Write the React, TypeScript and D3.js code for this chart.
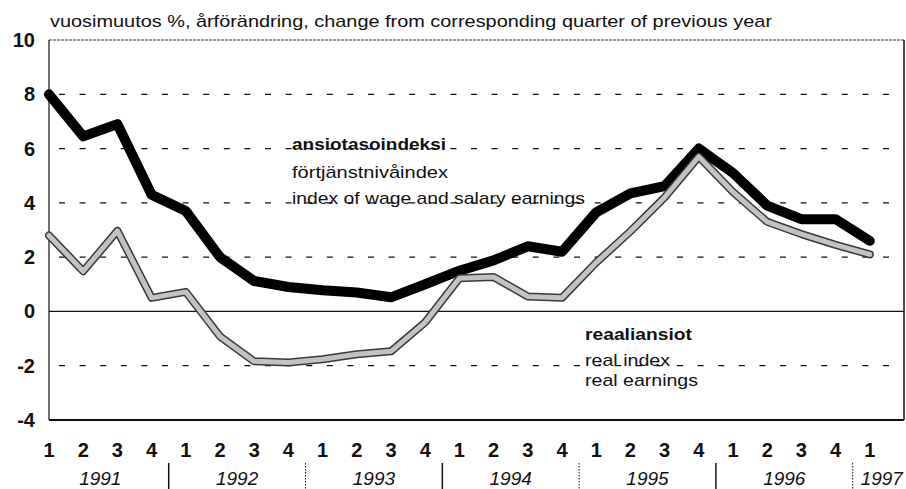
import * as d3 from "d3";

// quarters 1991Q1 .. 1997Q1
const QUARTERS = ["1", "2", "3", "4", "1", "2", "3", "4", "1", "2", "3", "4", "1", "2", "3", "4", "1", "2", "3", "4", "1", "2", "3", "4", "1"];
const YEARS = ["1991", "1992", "1993", "1994", "1995", "1996", "1997"];
// centre of each year label, in quarter-index units
const YEAR_POS = [1.5, 5.5, 9.5, 13.5, 17.5, 21.5, 24.35];
const YEAR_SEPS = [3.5, 7.5, 11.5, 15.5, 19.5, 23.5];

// index of wage and salary earnings
const WAGES = [8.0, 6.45, 6.9, 4.3, 3.7, 2.0, 1.12, 0.9, 0.78, 0.7, 0.52, 1.0, 1.5, 1.88, 2.4, 2.2, 3.65, 4.35, 4.62, 6.0, 5.1, 3.9, 3.4, 3.4, 2.6];
// real earnings
const REAL = [2.8, 1.48, 2.97, 0.5, 0.72, -0.92, -1.84, -1.88, -1.76, -1.58, -1.47, -0.4, 1.22, 1.27, 0.55, 0.5, 1.8, 2.95, 4.2, 5.7, 4.4, 3.3, 2.85, 2.45, 2.1];

const Y_TICKS = [-4, -2, 0, 2, 4, 6, 8, 10];
const GRID = [-2, 2, 4, 6, 8];

const FONT = "'Liberation Sans', Arial, sans-serif";

export default function App() {
  const W = 906;
  const H = 489;
  const left = 49;
  const right = 904;
  const top = 40;
  const bottom = 420;

  const x = d3.scaleLinear().domain([0, 25]).range([left, right]);
  const y = d3.scaleLinear().domain([-4, 10]).range([bottom, top]);

  const line = d3.line<number>()
    .x((_, i) => x(i))
    .y((d) => y(d));

  return (
    <svg width={W} height={H} style={{ position: "absolute", left: 0, top: 0, background: "#fff" }}>
      {/* title */}
      <text x={50} y={27} fontFamily={FONT} fontSize={17} textLength={722} lengthAdjust="spacingAndGlyphs" fill="#111">
        vuosimuutos %, årförändring, change from corresponding quarter of previous year
      </text>

      {/* grid */}
      {GRID.map((g) => (
        <line key={g} x1={left} x2={right} y1={y(g)} y2={y(g)} stroke="#111" strokeWidth={1.3} strokeDasharray="6 14.6" strokeDashoffset={-10} />
      ))}
      <line x1={left} x2={right} y1={y(10)} y2={y(10)} stroke="#333" strokeWidth={1.2} strokeDasharray="3 1" />
      <line x1={left} x2={right} y1={y(0)} y2={y(0)} stroke="#111" strokeWidth={1.3} />
      <line x1={left} x2={right} y1={y(-4)} y2={y(-4)} stroke="#111" strokeWidth={2} />
      <line x1={left} x2={left} y1={top} y2={bottom} stroke="#111" strokeWidth={1.2} />
      <line x1={right} x2={right} y1={top} y2={bottom} stroke="#111" strokeWidth={1.5} />

      {/* y tick labels */}
      {Y_TICKS.map((t) => (
        <text key={t} x={35} y={y(t) + 7} textAnchor="end" fontFamily={FONT} fontSize={20} fontWeight="bold" fill="#111">
          {t}
        </text>
      ))}

      {/* series */}
      <path d={line(WAGES) ?? ""} fill="none" stroke="#000" strokeWidth={10} strokeLinejoin="round" strokeLinecap="round" />
      <path d={line(REAL) ?? ""} fill="none" stroke="#3a3a3a" strokeWidth={8} strokeLinejoin="round" strokeLinecap="round" />
      <path d={line(REAL) ?? ""} fill="none" stroke="#c2c2c2" strokeWidth={5} strokeLinejoin="round" strokeLinecap="round" />

      {/* annotations */}
      <g fontFamily={FONT} fontSize={17} fill="#111">
        <text x={292} y={150} fontWeight="bold" textLength={154} lengthAdjust="spacingAndGlyphs">ansiotasoindeksi</text>
        <text x={292} y={178} textLength={156} lengthAdjust="spacingAndGlyphs">förtjänstnivåindex</text>
        <text x={292} y={204} textLength={293} lengthAdjust="spacingAndGlyphs">index of wage and salary earnings</text>
        <text x={585} y={340} fontWeight="bold" textLength={107} lengthAdjust="spacingAndGlyphs">reaaliansiot</text>
        <text x={585} y={366} textLength={85} lengthAdjust="spacingAndGlyphs">real index</text>
        <text x={585} y={386} textLength={113} lengthAdjust="spacingAndGlyphs">real earnings</text>
      </g>

      {/* x axis: quarters */}
      {QUARTERS.map((q, i) => (
        <text key={i} x={x(i)} y={457} textAnchor="middle" fontFamily={FONT} fontSize={20} fontWeight="bold" fill="#111">
          {q}
        </text>
      ))}
      {/* years */}
      {YEARS.map((yr, i) => (
        <text key={yr} x={x(YEAR_POS[i])} y={485} textAnchor="middle" fontFamily={FONT} fontSize={19} fontStyle="italic" fill="#111">
          {yr}
        </text>
      ))}
      {YEAR_SEPS.map((s, i) => (
        <line key={s} x1={x(s)} x2={x(s)} y1={463} y2={489} stroke="#111" strokeWidth={i % 2 === 0 ? 1.5 : 1} strokeDasharray={i % 2 === 0 ? undefined : "1.5 1.5"} />
      ))}
    </svg>
  );
}
